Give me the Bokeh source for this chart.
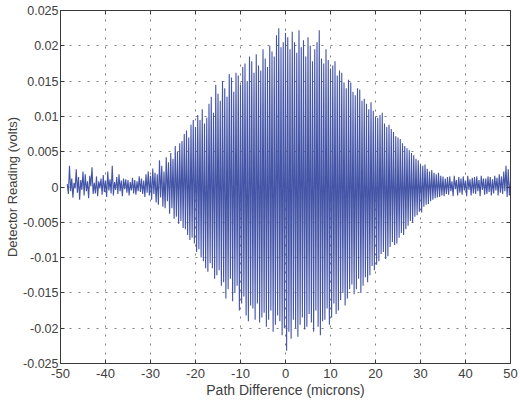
from bokeh.plotting import figure
from bokeh.models import LinearAxis, FixedTicker, Range1d
from bokeh.embed import file_html
from bokeh.resources import INLINE
import numpy as np

# ---- data ----
x_start = -48.5   # first sample position (microns)
x_step = 0.25     # sample spacing (microns)

detector_volts = [
    0.0004, -0.0010, 0.0030, -0.0006,
    0.0012, -0.0015, 0.0006, -0.0002,
    0.0025, -0.0008, 0.0014, -0.0018,
    0.0010, -0.0004, 0.0022, -0.0012,
    0.0018, -0.0006, 0.0008, -0.0016,
    0.0016, 0.0001, 0.0028, -0.0010,
    0.0006, -0.0009, 0.0015, -0.0013,
    0.0008, -0.0002, 0.0012, -0.0011,
    0.0017, -0.0007, 0.0009, -0.0014,
    0.0022, -0.0005, 0.0011, -0.0009,
    0.0030, -0.0012, 0.0007, -0.0004,
    0.0014, -0.0010, 0.0018, -0.0006,
    0.0009, -0.0013, 0.0012, -0.0003,
    0.0011, -0.0008, 0.0010, -0.0012,
    0.0007, -0.0005, 0.0013, -0.0009,
    0.0010, -0.0011, 0.0008, -0.0006,
    0.0015, -0.0007, 0.0012, -0.0010,
    0.0009, -0.0014, 0.0018, -0.0008,
    0.0022, -0.0012, 0.0016, -0.0018,
    0.0026, -0.0010, 0.0020, -0.0022,
    0.0018, -0.0025, 0.0038, -0.0015,
    0.0030, -0.0028, 0.0022, -0.0030,
    0.0042, -0.0020, 0.0035, -0.0038,
    0.0048, -0.0030, 0.0040, -0.0045,
    0.0058, -0.0042, 0.0050, -0.0052,
    0.0062, -0.0048, 0.0065, -0.0058,
    0.0075, -0.0060, 0.0080, -0.0068,
    0.0070, -0.0075, 0.0088, -0.0072,
    0.0095, -0.0080, 0.0085, -0.0092,
    0.0102, -0.0088, 0.0095, -0.0100,
    0.0110, -0.0105, 0.0090, -0.0115,
    0.0098, -0.0120, 0.0118, -0.0108,
    0.0128, -0.0115, 0.0105, -0.0130,
    0.0145, -0.0125, 0.0132, -0.0118,
    0.0122, -0.0140, 0.0150, -0.0135,
    0.0140, -0.0158, 0.0128, -0.0145,
    0.0160, -0.0130, 0.0155, -0.0162,
    0.0135, -0.0150, 0.0162, -0.0140,
    0.0158, -0.0175, 0.0145, -0.0165,
    0.0170, -0.0155, 0.0175, -0.0182,
    0.0150, -0.0190, 0.0185, -0.0168,
    0.0178, -0.0172, 0.0162, -0.0188,
    0.0188, -0.0165, 0.0172, -0.0192,
    0.0165, -0.0185, 0.0195, -0.0178,
    0.0182, -0.0198, 0.0170, -0.0188,
    0.0200, -0.0175, 0.0192, -0.0205,
    0.0185, -0.0195, 0.0215, -0.0182,
    0.0225, -0.0190, 0.0198, -0.0210,
    0.0205, -0.0200, 0.0218, -0.0232,
    0.0212, -0.0205, 0.0195, -0.0215,
    0.0220, -0.0188, 0.0205, -0.0200,
    0.0190, -0.0212, 0.0222, -0.0195,
    0.0198, -0.0185, 0.0208, -0.0202,
    0.0185, -0.0198, 0.0212, -0.0180,
    0.0200, -0.0192, 0.0178, -0.0205,
    0.0195, -0.0175, 0.0205, -0.0198,
    0.0222, -0.0210, 0.0182, -0.0190,
    0.0175, -0.0188, 0.0195, -0.0172,
    0.0180, -0.0195, 0.0168, -0.0185,
    0.0172, -0.0165, 0.0178, -0.0180,
    0.0158, -0.0175, 0.0165, -0.0160,
    0.0162, -0.0150, 0.0148, -0.0168,
    0.0140, -0.0158, 0.0152, -0.0145,
    0.0148, -0.0138, 0.0135, -0.0152,
    0.0130, -0.0145, 0.0140, -0.0130,
    0.0138, -0.0150, 0.0122, -0.0140,
    0.0125, -0.0128, 0.0118, -0.0135,
    0.0110, -0.0125, 0.0120, -0.0112,
    0.0108, -0.0118, 0.0100, -0.0110,
    0.0098, -0.0105, 0.0102, -0.0095,
    0.0105, -0.0092, 0.0090, -0.0102,
    0.0085, -0.0098, 0.0088, -0.0085,
    0.0082, -0.0078, 0.0078, -0.0082,
    0.0072, -0.0080, 0.0070, -0.0072,
    0.0068, -0.0065, 0.0062, -0.0068,
    0.0058, -0.0060, 0.0055, -0.0055,
    0.0052, -0.0048, 0.0048, -0.0050,
    0.0045, -0.0042, 0.0040, -0.0040,
    0.0038, -0.0035, 0.0032, -0.0036,
    0.0030, -0.0028, 0.0032, -0.0025,
    0.0026, -0.0024, 0.0022, -0.0020,
    0.0024, -0.0018, 0.0020, -0.0016,
    0.0018, -0.0015, 0.0020, -0.0014,
    0.0016, -0.0012, 0.0015, -0.0013,
    0.0012, -0.0010, 0.0014, -0.0011,
    0.0015, -0.0006, 0.0008, -0.0013,
    0.0016, -0.0003, 0.0010, -0.0012,
    0.0014, -0.0008, 0.0012, -0.0011,
    0.0015, -0.0005, 0.0009, -0.0013,
    0.0016, -0.0004, 0.0011, -0.0012,
    0.0013, -0.0009, 0.0014, -0.0010,
    0.0015, -0.0006, 0.0010, -0.0013,
    0.0016, -0.0004, 0.0012, -0.0011,
    0.0012, -0.0010, 0.0015, -0.0007,
    0.0014, -0.0012, 0.0011, -0.0009,
    0.0016, -0.0005, 0.0013, -0.0012,
    0.0018, -0.0008, 0.0015, -0.0010,
    0.0022, -0.0006, 0.0030, -0.0014,
    0.0025, -0.0012, 0.0008,
]
path_microns = x_start + x_step * np.arange(len(detector_volts))

x_ticks = [-50, -40, -30, -20, -10, 0, 10, 20, 30, 40, 50]
x_tick_labels = ["-50", "-40", "-30", "-20", "-10", "0", "10", "20", "30", "40", "50"]
y_ticks = [-0.025, -0.02, -0.015, -0.01, -0.005, 0, 0.005, 0.01, 0.015, 0.02, 0.025]
y_tick_labels = ["-0.025", "-0.02", "-0.015", "-0.01", "-0.005", "0",
                 "0.005", "0.01", "0.015", "0.02", "0.025"]
x_label = "Path Difference (microns)"
y_label = "Detector Reading (volts)"

FONT = "Liberation Sans"
AX = "#3a3a3a"
TXT = "#404040"

p = figure(width=520, height=402, output_backend="svg", toolbar_location=None,
           x_range=Range1d(-50, 50), y_range=Range1d(-0.025, 0.025),
           frame_width=450, frame_height=353,
           min_border_left=60, min_border_right=10, min_border_top=10, min_border_bottom=39,
           x_axis_label=x_label, y_axis_label=y_label)
p.background_fill_color = "white"
p.border_fill_color = "white"
p.outline_line_color = AX
p.outline_line_width = 1

p.line(path_microns, detector_volts, line_color="#4454a6", line_width=1.1)

for ax, ticks, labels in ((p.xaxis[0], x_ticks, x_tick_labels), (p.yaxis[0], y_ticks, y_tick_labels)):
    ax.ticker = FixedTicker(ticks=ticks)
    ax.major_label_overrides = {t: l for t, l in zip(ticks, labels)}
    ax.major_tick_in = 4
    ax.major_tick_out = 0
    ax.minor_tick_line_color = None
    ax.axis_line_color = AX
    ax.major_tick_line_color = AX
    ax.major_label_text_font = FONT
    ax.major_label_text_color = TXT
    ax.axis_label_text_font = FONT
    ax.axis_label_text_font_style = "normal"
    ax.axis_label_text_color = TXT

p.xaxis[0].major_label_text_font_size = "13px"
p.xaxis[0].axis_label_text_font_size = "14px"
p.xaxis[0].major_label_standoff = 5
p.xaxis[0].axis_label_standoff = 1

p.yaxis[0].major_label_text_font_size = "12.5px"
p.yaxis[0].axis_label_text_font_size = "13px"
p.yaxis[0].major_label_standoff = 2
p.yaxis[0].axis_label_standoff = 0

for loc, ticks in (("above", x_ticks), ("right", y_ticks)):
    a = LinearAxis(ticker=FixedTicker(ticks=ticks), major_tick_in=4, major_tick_out=0,
                   minor_tick_line_color=None, axis_line_color=AX, major_tick_line_color=AX,
                   major_label_overrides={t: "" for t in ticks}, major_label_standoff=0)
    p.add_layout(a, loc)

for g, ticks in ((p.xgrid[0], x_ticks), (p.ygrid[0], y_ticks)):
    g.ticker = FixedTicker(ticks=ticks)
    g.grid_line_color = "#555555"
    g.grid_line_dash = "2 7"
    g.grid_line_width = 1
    g.grid_line_alpha = 0.75

open("out.html", "w").write(file_html(p, INLINE))
